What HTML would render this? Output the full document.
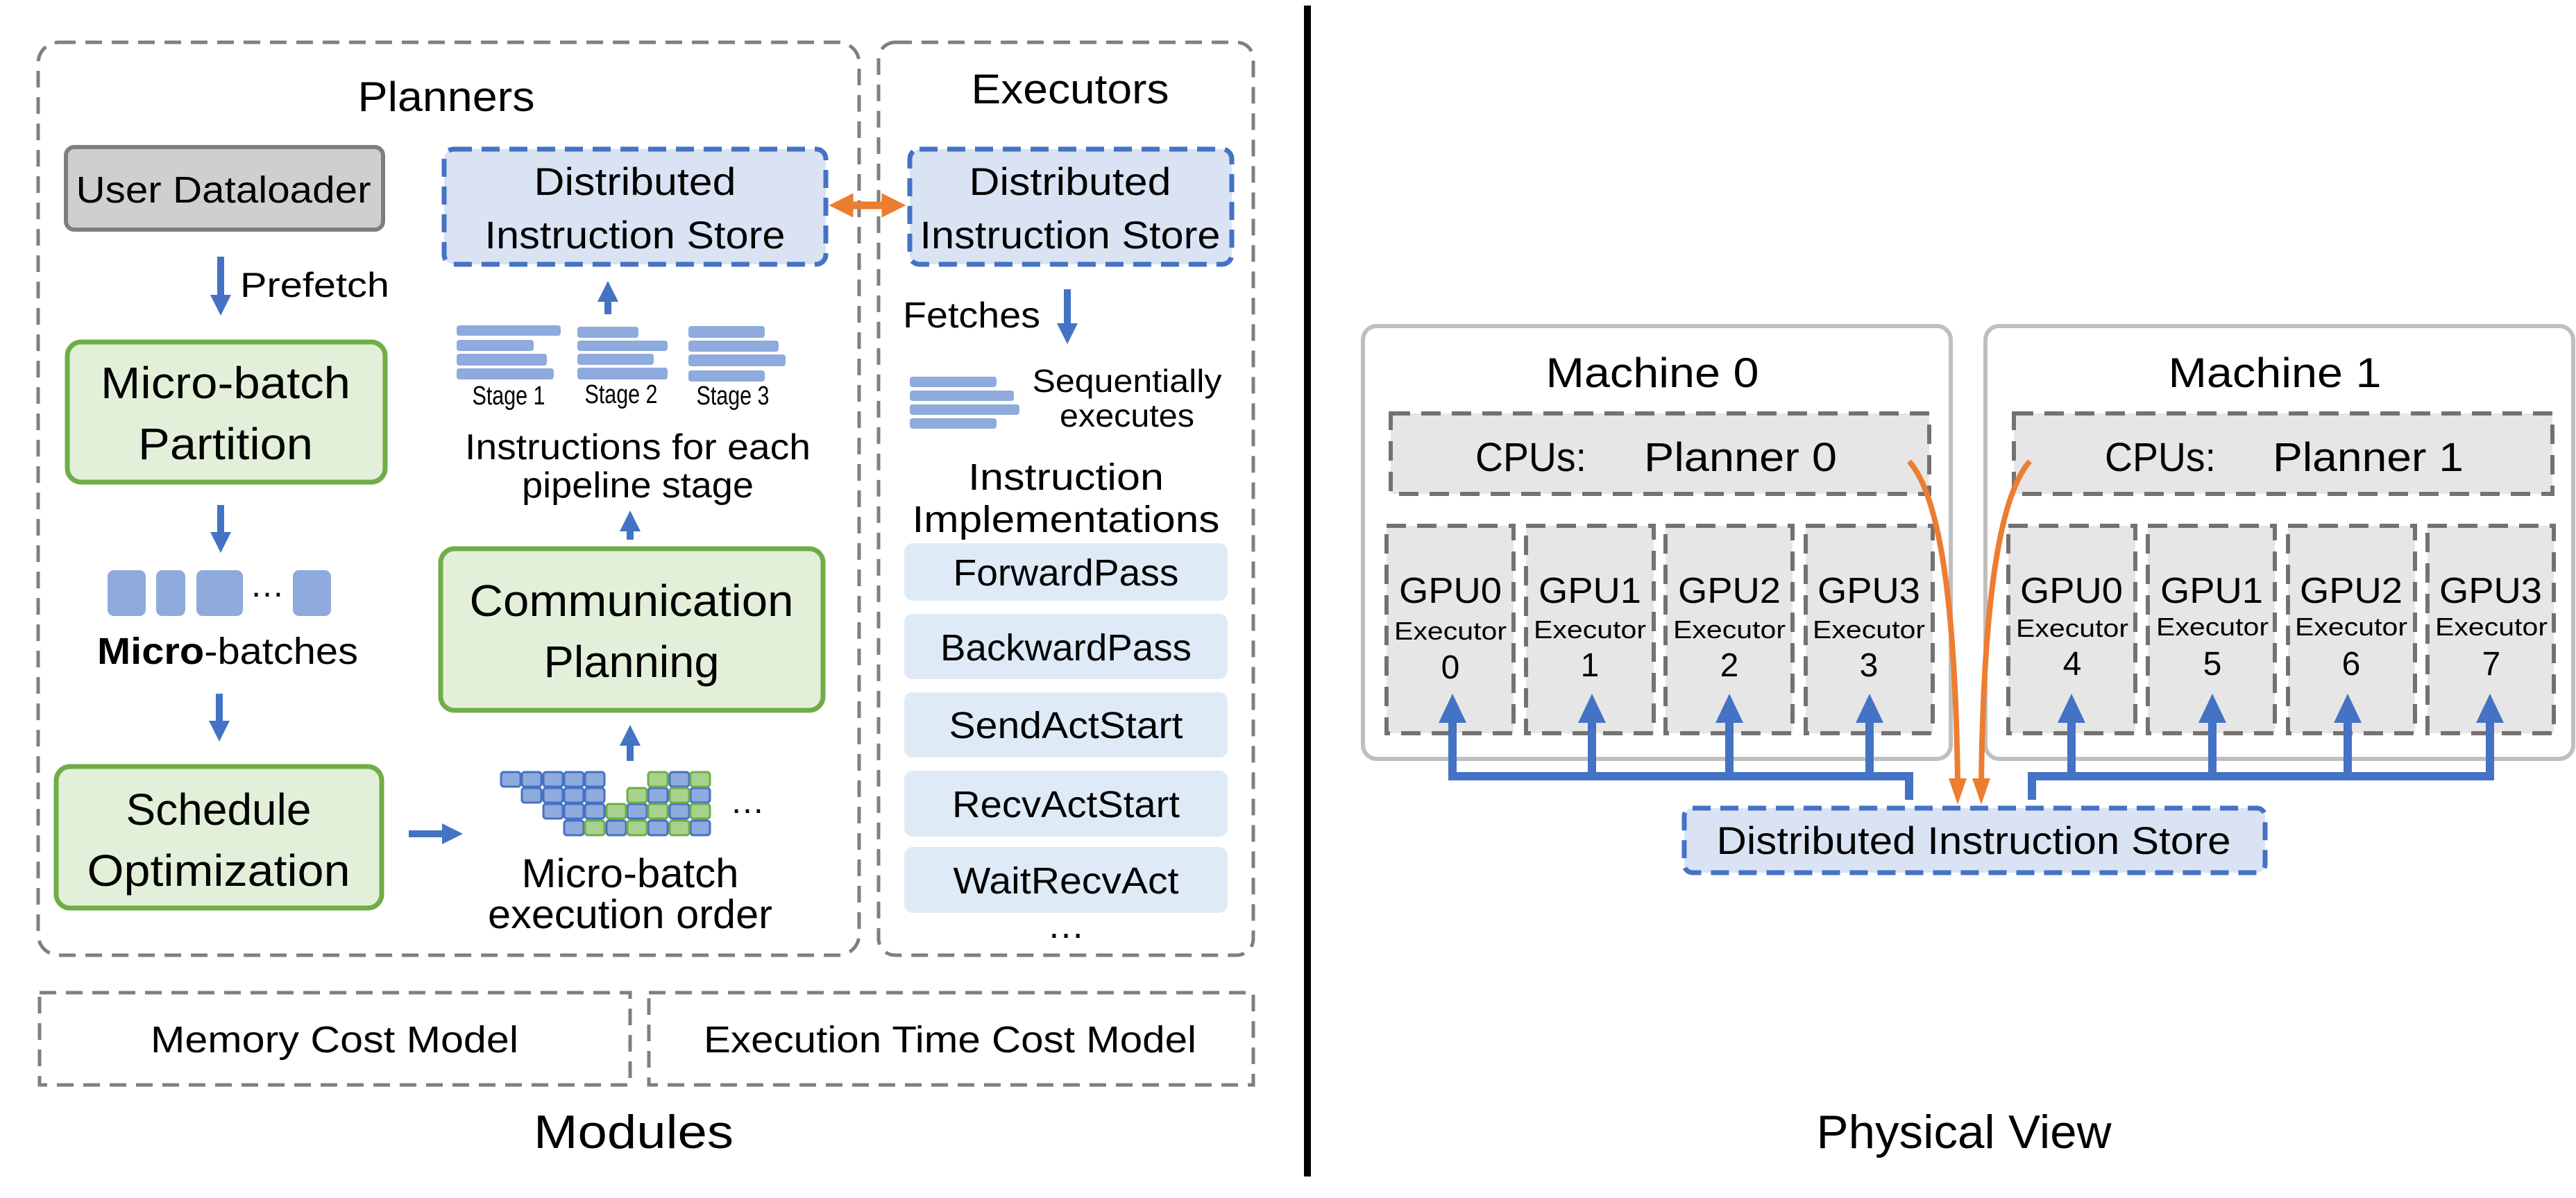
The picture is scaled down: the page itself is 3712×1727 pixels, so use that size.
<!DOCTYPE html>
<html><head><meta charset="utf-8"><style>
html,body{margin:0;padding:0;background:#fff}
svg{display:block}
text{font-family:"Liberation Sans",sans-serif;fill:#000}
</style></head><body>
<svg xmlns="http://www.w3.org/2000/svg" width="3712" height="1727" viewBox="0 0 3712 1727">
<defs>
<marker id="bh" viewBox="0 0 10 10" refX="5" refY="5" markerWidth="3" markerHeight="3" orient="auto"><path d="M0,0 L10,5 L0,10 z" fill="#4472c4"/></marker>
<marker id="oh" viewBox="0 0 10 10" refX="5" refY="5" markerWidth="3.2" markerHeight="3.2" orient="auto-start-reverse"><path d="M0,0 L10,5 L0,10 z" fill="#ed7d31"/></marker>
</defs>
<g stroke="#7f7f7f" stroke-width="5" stroke-dasharray="24 14" fill="none">
<rect x="55" y="61" width="1183" height="1316" rx="30"/>
<rect x="1266" y="61" width="540" height="1316" rx="24"/>
<rect x="57" y="1431" width="851" height="133"/>
<rect x="935" y="1431" width="871" height="133"/>
</g>
<rect x="1879" y="8" width="10" height="1688" fill="#000"/>
<text x="643" y="160" font-size="60" text-anchor="middle" textLength="255" lengthAdjust="spacingAndGlyphs">Planners</text>
<text x="1542" y="149" font-size="60" text-anchor="middle" textLength="285" lengthAdjust="spacingAndGlyphs">Executors</text>
<rect x="95" y="212" width="457" height="119" rx="12" fill="#d0cece" stroke="#7f7f7f" stroke-width="6"/>
<text x="322" y="292" font-size="54" text-anchor="middle" textLength="425" lengthAdjust="spacingAndGlyphs">User Dataloader</text>
<g stroke="#4472c4" stroke-width="10" fill="none" marker-end="url(#bh)">
<line x1="318" y1="370" x2="318" y2="440"/>
<line x1="318" y1="728" x2="318" y2="782"/>
<line x1="316" y1="1000" x2="316" y2="1054"/>
<line x1="589" y1="1202" x2="652" y2="1202"/>
<line x1="908" y1="1097" x2="908" y2="1060"/>
<line x1="908" y1="778" x2="908" y2="751"/>
<line x1="876" y1="453" x2="876" y2="420"/>
<line x1="1538" y1="417" x2="1538" y2="481"/>
</g>
<text x="346" y="428" font-size="50" textLength="215" lengthAdjust="spacingAndGlyphs">Prefetch</text>
<g fill="#e2f0d9" stroke="#70ad47" stroke-width="7">
<rect x="97" y="493" width="458" height="202" rx="20"/>
<rect x="81" y="1105" width="469" height="204" rx="20"/>
<rect x="635" y="791" width="551" height="233" rx="20"/>
</g>
<g font-size="64" text-anchor="middle">
<text x="325" y="574" textLength="360" lengthAdjust="spacingAndGlyphs">Micro-batch</text>
<text x="325" y="662" textLength="252" lengthAdjust="spacingAndGlyphs">Partition</text>
<text x="315" y="1189" textLength="267" lengthAdjust="spacingAndGlyphs">Schedule</text>
<text x="315" y="1277" textLength="379" lengthAdjust="spacingAndGlyphs">Optimization</text>
<text x="910" y="888" textLength="467" lengthAdjust="spacingAndGlyphs">Communication</text>
<text x="910" y="976" textLength="253" lengthAdjust="spacingAndGlyphs">Planning</text>
</g>
<g fill="#8faadc">
<rect x="155" y="822" width="55" height="66" rx="9"/>
<rect x="225" y="822" width="42" height="66" rx="9"/>
<rect x="283" y="822" width="67" height="66" rx="9"/>
<rect x="422" y="822" width="55" height="66" rx="9"/>
</g>
<text x="385" y="860" font-size="50" text-anchor="middle">…</text>
<text x="328" y="957" font-size="54" text-anchor="middle" textLength="376" lengthAdjust="spacingAndGlyphs"><tspan font-weight="bold">Micro</tspan>-batches</text>
<g stroke-width="3">
<g fill="#8faadc" stroke="#4472c4">
<rect x="722" y="1113" width="28" height="21" rx="4"/><rect x="752" y="1113" width="28" height="21" rx="4"/><rect x="783" y="1113" width="28" height="21" rx="4"/><rect x="813" y="1113" width="28" height="21" rx="4"/><rect x="843" y="1113" width="28" height="21" rx="4"/><rect x="965" y="1113" width="28" height="21" rx="4"/>
<rect x="752" y="1136" width="28" height="21" rx="4"/><rect x="783" y="1136" width="28" height="21" rx="4"/><rect x="813" y="1136" width="28" height="21" rx="4"/><rect x="843" y="1136" width="28" height="21" rx="4"/><rect x="934" y="1136" width="28" height="21" rx="4"/><rect x="995" y="1136" width="28" height="21" rx="4"/>
<rect x="783" y="1159" width="28" height="21" rx="4"/><rect x="813" y="1159" width="28" height="21" rx="4"/><rect x="843" y="1159" width="28" height="21" rx="4"/><rect x="904" y="1159" width="28" height="21" rx="4"/><rect x="965" y="1159" width="28" height="21" rx="4"/>
<rect x="813" y="1183" width="28" height="21" rx="4"/><rect x="874" y="1183" width="28" height="21" rx="4"/><rect x="934" y="1183" width="28" height="21" rx="4"/><rect x="995" y="1183" width="28" height="21" rx="4"/>
</g>
<g fill="#a9d18e" stroke="#70ad47">
<rect x="934" y="1113" width="28" height="21" rx="4"/><rect x="995" y="1113" width="28" height="21" rx="4"/>
<rect x="904" y="1136" width="28" height="21" rx="4"/><rect x="965" y="1136" width="28" height="21" rx="4"/>
<rect x="874" y="1159" width="28" height="21" rx="4"/><rect x="934" y="1159" width="28" height="21" rx="4"/><rect x="995" y="1159" width="28" height="21" rx="4"/>
<rect x="843" y="1183" width="28" height="21" rx="4"/><rect x="904" y="1183" width="28" height="21" rx="4"/><rect x="965" y="1183" width="28" height="21" rx="4"/>
</g>
</g>
<text x="1077" y="1172" font-size="50" text-anchor="middle">…</text>
<g font-size="58" text-anchor="middle">
<text x="908" y="1279" textLength="313" lengthAdjust="spacingAndGlyphs">Micro-batch</text>
<text x="908" y="1338" textLength="410" lengthAdjust="spacingAndGlyphs">execution order</text>
</g>
<g font-size="52" text-anchor="middle">
<text x="919" y="662" textLength="498" lengthAdjust="spacingAndGlyphs">Instructions for each</text>
<text x="919" y="717" textLength="334" lengthAdjust="spacingAndGlyphs">pipeline stage</text>
</g>
<g fill="#8faadc">
<rect x="658" y="469" width="150" height="15" rx="4"/><rect x="658" y="490" width="111" height="16" rx="4"/><rect x="658" y="510" width="130" height="17" rx="4"/><rect x="658" y="531" width="140" height="16" rx="4"/>
<rect x="832" y="471" width="88" height="16" rx="4"/><rect x="832" y="491" width="130" height="15" rx="4"/><rect x="832" y="510" width="110" height="16" rx="4"/><rect x="832" y="530" width="130" height="17" rx="4"/>
<rect x="992" y="470" width="110" height="17" rx="4"/><rect x="992" y="491" width="130" height="16" rx="4"/><rect x="992" y="511" width="140" height="17" rx="4"/><rect x="992" y="534" width="110" height="16" rx="4"/>
<rect x="1311" y="543" width="125" height="15" rx="4"/><rect x="1311" y="563" width="150" height="15" rx="4"/><rect x="1311" y="583" width="158" height="15" rx="4"/><rect x="1311" y="603" width="125" height="15" rx="4"/>
</g>
<g font-size="38" text-anchor="middle">
<text x="733" y="583" textLength="105" lengthAdjust="spacingAndGlyphs">Stage 1</text>
<text x="895" y="581" textLength="105" lengthAdjust="spacingAndGlyphs">Stage 2</text>
<text x="1056" y="583" textLength="105" lengthAdjust="spacingAndGlyphs">Stage 3</text>
</g>
<g fill="#dae3f3" stroke="#4472c4" stroke-width="7" stroke-dasharray="26 14">
<rect x="640" y="215" width="550" height="166" rx="14"/>
<rect x="1311" y="215" width="464" height="166" rx="14"/>
<rect x="2427" y="1165" width="837" height="93" rx="12"/>
</g>
<g font-size="56" text-anchor="middle">
<text x="915" y="281" textLength="291" lengthAdjust="spacingAndGlyphs">Distributed</text>
<text x="915" y="358" textLength="433" lengthAdjust="spacingAndGlyphs">Instruction Store</text>
<text x="1542" y="281" textLength="291" lengthAdjust="spacingAndGlyphs">Distributed</text>
<text x="1542" y="358" textLength="433" lengthAdjust="spacingAndGlyphs">Instruction Store</text>
<text x="2844" y="1231" textLength="741" lengthAdjust="spacingAndGlyphs">Distributed Instruction Store</text>
</g>
<line x1="1212" y1="296" x2="1288" y2="296" stroke="#ed7d31" stroke-width="11" marker-start="url(#oh)" marker-end="url(#oh)"/>
<text x="1301" y="472" font-size="52" textLength="198" lengthAdjust="spacingAndGlyphs">Fetches</text>
<g font-size="46" text-anchor="middle">
<text x="1624" y="565" textLength="273" lengthAdjust="spacingAndGlyphs">Sequentially</text>
<text x="1624" y="615" textLength="194" lengthAdjust="spacingAndGlyphs">executes</text>
</g>
<g font-size="54" text-anchor="middle">
<text x="1536" y="706" textLength="282" lengthAdjust="spacingAndGlyphs">Instruction</text>
<text x="1536" y="767" textLength="443" lengthAdjust="spacingAndGlyphs">Implementations</text>
</g>
<g fill="#deebf7">
<rect x="1303" y="783" width="466" height="83" rx="12"/>
<rect x="1303" y="885" width="466" height="94" rx="12"/>
<rect x="1303" y="998" width="466" height="94" rx="12"/>
<rect x="1303" y="1111" width="466" height="95" rx="12"/>
<rect x="1303" y="1221" width="466" height="95" rx="12"/>
</g>
<g font-size="54" text-anchor="middle">
<text x="1536" y="844" textLength="325" lengthAdjust="spacingAndGlyphs">ForwardPass</text>
<text x="1536" y="952" textLength="362" lengthAdjust="spacingAndGlyphs">BackwardPass</text>
<text x="1536" y="1064" textLength="337" lengthAdjust="spacingAndGlyphs">SendActStart</text>
<text x="1536" y="1178" textLength="328" lengthAdjust="spacingAndGlyphs">RecvActStart</text>
<text x="1536" y="1288" textLength="325" lengthAdjust="spacingAndGlyphs">WaitRecvAct</text>
<text x="1536" y="1352">…</text>
</g>
<g font-size="54" text-anchor="middle">
<text x="482" y="1517" textLength="530" lengthAdjust="spacingAndGlyphs">Memory Cost Model</text>
<text x="1369" y="1517" textLength="710" lengthAdjust="spacingAndGlyphs">Execution Time Cost Model</text>
</g>
<text x="913" y="1655" font-size="68" text-anchor="middle" textLength="288" lengthAdjust="spacingAndGlyphs">Modules</text>
<text x="2830" y="1655" font-size="68" text-anchor="middle" textLength="425" lengthAdjust="spacingAndGlyphs">Physical View</text>

<g fill="#fff" stroke="#bfbfbf" stroke-width="6">
<rect x="1964" y="470" width="847" height="624" rx="20"/>
<rect x="2861" y="470" width="847" height="624" rx="20"/>
</g>
<g font-size="60" text-anchor="middle">
<text x="2381" y="558" textLength="307" lengthAdjust="spacingAndGlyphs">Machine 0</text>
<text x="3278" y="558" textLength="307" lengthAdjust="spacingAndGlyphs">Machine 1</text>
</g>
<g fill="#e7e6e6" stroke="#767171" stroke-width="6" stroke-dasharray="28 16">
<rect x="2004" y="596" width="776" height="116"/>
<rect x="2902" y="596" width="776" height="116"/>
<rect x="1998" y="758" width="183" height="299"/><rect x="2199" y="758" width="184" height="299"/><rect x="2400" y="758" width="183" height="299"/><rect x="2602" y="758" width="183" height="299"/>
<rect x="2894" y="758" width="183" height="299"/><rect x="3095" y="758" width="183" height="299"/><rect x="3297" y="758" width="183" height="299"/><rect x="3498" y="758" width="182" height="299"/>
</g>
<g font-size="58">
<text x="2126" y="679" textLength="160" lengthAdjust="spacingAndGlyphs">CPUs:</text>
<text x="2369" y="679" textLength="278" lengthAdjust="spacingAndGlyphs">Planner 0</text>
<text x="3033" y="679" textLength="160" lengthAdjust="spacingAndGlyphs">CPUs:</text>
<text x="3275" y="679" textLength="275" lengthAdjust="spacingAndGlyphs">Planner 1</text>
</g>
<g text-anchor="middle">
<g font-size="52">
<text x="2090" y="869" textLength="148" lengthAdjust="spacingAndGlyphs">GPU0</text>
<text x="2291" y="869" textLength="148" lengthAdjust="spacingAndGlyphs">GPU1</text>
<text x="2492" y="869" textLength="148" lengthAdjust="spacingAndGlyphs">GPU2</text>
<text x="2693" y="869" textLength="148" lengthAdjust="spacingAndGlyphs">GPU3</text>
<text x="2985" y="869" textLength="148" lengthAdjust="spacingAndGlyphs">GPU0</text>
<text x="3187" y="869" textLength="148" lengthAdjust="spacingAndGlyphs">GPU1</text>
<text x="3388" y="869" textLength="148" lengthAdjust="spacingAndGlyphs">GPU2</text>
<text x="3589" y="869" textLength="148" lengthAdjust="spacingAndGlyphs">GPU3</text>
</g>
<g font-size="36">
<text x="2090" y="922" textLength="162" lengthAdjust="spacingAndGlyphs">Executor</text>
<text x="2291" y="920" textLength="162" lengthAdjust="spacingAndGlyphs">Executor</text>
<text x="2492" y="920" textLength="162" lengthAdjust="spacingAndGlyphs">Executor</text>
<text x="2693" y="920" textLength="162" lengthAdjust="spacingAndGlyphs">Executor</text>
<text x="2986" y="918" textLength="162" lengthAdjust="spacingAndGlyphs">Executor</text>
<text x="3188" y="916" textLength="162" lengthAdjust="spacingAndGlyphs">Executor</text>
<text x="3388" y="916" textLength="162" lengthAdjust="spacingAndGlyphs">Executor</text>
<text x="3590" y="916" textLength="162" lengthAdjust="spacingAndGlyphs">Executor</text>
</g>
<g font-size="48">
<text x="2090" y="978">0</text><text x="2291" y="975">1</text><text x="2492" y="975">2</text><text x="2693" y="975">3</text>
<text x="2986" y="973">4</text><text x="3188" y="973">5</text><text x="3388" y="973">6</text><text x="3590" y="973">7</text>
</g>
</g>
<g stroke="#4472c4" stroke-width="12" fill="none">
<path d="M2093 1030 V1119 H2751 V1153"/>
<path d="M2294 1030 V1119"/><path d="M2492 1030 V1119"/><path d="M2694 1030 V1119"/>
<path d="M2928 1153 V1119 H3588 V1030"/>
<path d="M2985 1030 V1119"/><path d="M3188 1030 V1119"/><path d="M3383 1030 V1119"/>
</g>
<g fill="#4472c4">
<path d="M2093 1000 L2073 1042 L2113 1042 z"/><path d="M2294 1000 L2274 1042 L2314 1042 z"/><path d="M2492 1000 L2472 1042 L2512 1042 z"/><path d="M2694 1000 L2674 1042 L2714 1042 z"/>
<path d="M2985 1000 L2965 1042 L3005 1042 z"/><path d="M3188 1000 L3168 1042 L3208 1042 z"/><path d="M3383 1000 L3363 1042 L3403 1042 z"/><path d="M3588 1000 L3568 1042 L3608 1042 z"/>
</g>
<g stroke="#ed7d31" stroke-width="8" fill="none">
<path d="M2751 665 C2800 720, 2818 900, 2821 1128"/>
<path d="M2925 665 C2876 720, 2858 900, 2855 1128"/>
</g>
<g fill="#ed7d31">
<path d="M2821 1160 L2808 1122 L2834 1122 z"/>
<path d="M2855 1160 L2842 1122 L2868 1122 z"/>
</g>
</svg>
</body></html>
